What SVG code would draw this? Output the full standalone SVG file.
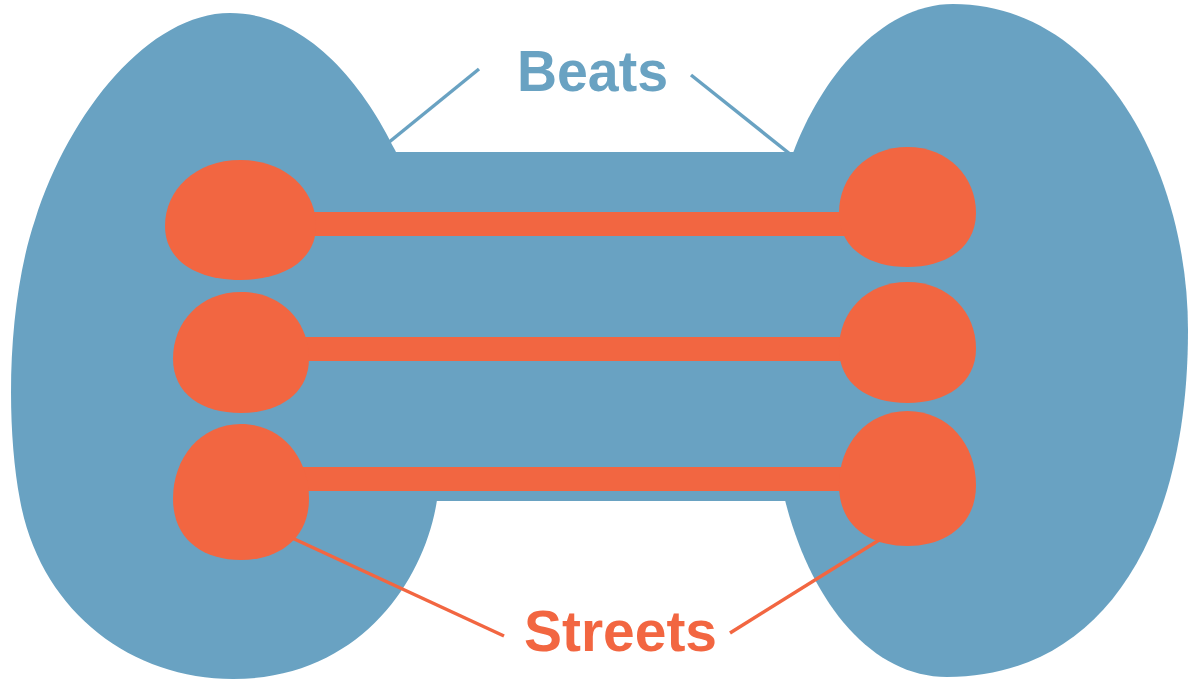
<svg xmlns="http://www.w3.org/2000/svg" xmlns:xlink="http://www.w3.org/1999/xlink" width="1195" height="680" viewBox="0 0 1195 680">
  <style>
    .beat { fill: #69a2c2; }
    .street { fill: #f26641; }
    .bline { stroke: #69a2c2; stroke-width: 3.5; fill: none; }
    .sline { stroke: #f26641; stroke-width: 3.5; fill: none; }
    .label { font-family: "Liberation Sans", Arial, sans-serif; font-weight: bold; font-size: 58px; }
  </style>
  <defs>
    <path id="blob" d="M0,-1 C0.6,-1 1,-0.5 1,0.1 C1,0.68 0.56,1 0,1 C-0.58,1 -1,0.68 -1,0.1 C-1,-0.5 -0.6,-1 0,-1 Z"/>
  </defs>
  <rect width="1195" height="680" fill="#ffffff"/>

  <g id="beats-leaders">
    <line class="bline" x1="479" y1="69" x2="388" y2="143"/>
    <line class="bline" x1="691" y1="75" x2="790" y2="154"/>
  </g>

  <g id="beats">
    <path class="beat" d="M230,13 C305,13 362,82 395,150 C430,220 445,420 437,500 C425,580 360,679 233,679 C130,679 40,610 20,500 C5,420 8,300 35,220 C70,110 150,13 230,13 Z"/>
    <path class="beat" d="M953,4 C1100,4 1188,170 1188,330 C1188,540 1100,677 947,677 C870,677 810,600 785,500 C770,420 770,250 793,153 C820,80 880,4 953,4 Z"/>
    <rect class="beat" x="390" y="152" width="410" height="349"/>
  </g>

  <g id="connectors">
    <line class="sline" x1="504" y1="636" x2="290" y2="537"/>
    <line class="sline" x1="730" y1="633" x2="884" y2="537"/>
    <rect class="street" x="300" y="212" width="550" height="24"/>
    <rect class="street" x="300" y="337" width="550" height="24"/>
    <rect class="street" x="300" y="467" width="550" height="24"/>
  </g>

  <g id="street-left-1"><use xlink:href="#blob" class="street" transform="translate(240.5,220) scale(75.5,60)"/></g>
  <g id="street-left-2"><use xlink:href="#blob" class="street" transform="translate(241,352.5) scale(68,60.5)"/></g>
  <g id="street-left-3"><use xlink:href="#blob" class="street" transform="translate(241,492) scale(68,68)"/></g>
  <g id="street-right-1"><use xlink:href="#blob" class="street" transform="translate(907.5,207) scale(68.5,60)"/></g>
  <g id="street-right-2"><use xlink:href="#blob" class="street" transform="translate(907.5,342.5) scale(68.5,60.5)"/></g>
  <g id="street-right-3"><use xlink:href="#blob" class="street" transform="translate(907.5,478.5) scale(68.5,67.5)"/></g>

  <g id="label-beats">
    <text class="label beat" x="517" y="91" textLength="151" lengthAdjust="spacingAndGlyphs">Beats</text>
  </g>
  <g id="label-streets">
    <text class="label street" x="524" y="651" textLength="193" lengthAdjust="spacingAndGlyphs">Streets</text>
  </g>
</svg>
